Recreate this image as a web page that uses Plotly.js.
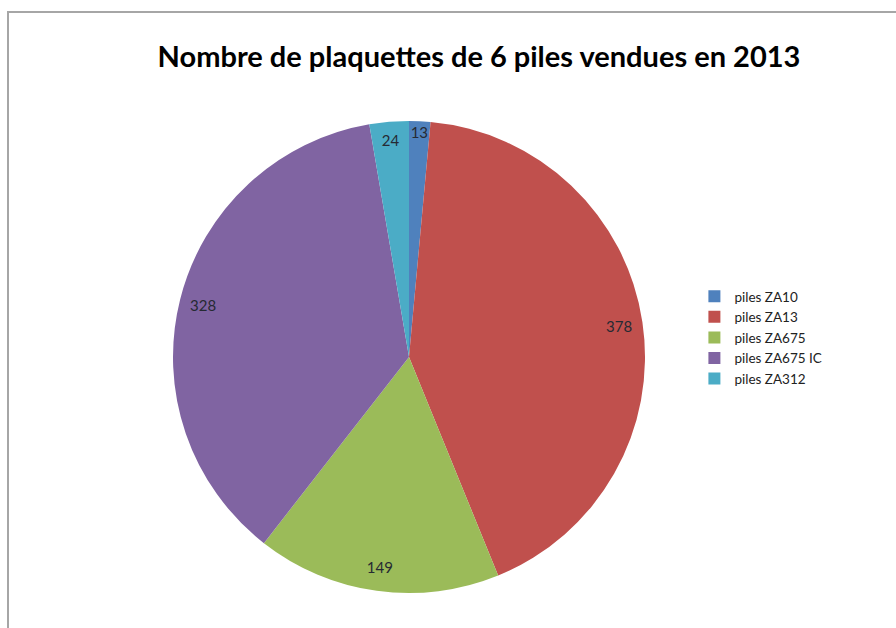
<!DOCTYPE html>
<html>
<head>
<meta charset="utf-8">
<script src="https://cdn.plot.ly/plotly-3.0.1.min.js"></script>
<style>html,body{margin:0;padding:0;background:#fff;}#chart{width:896px;height:628px;}</style>
</head>
<body>
<div id="chart"></div>
<script>
const labels = ["piles ZA10", "piles ZA13", "piles ZA675", "piles ZA675 IC", "piles ZA312"];
const values = [13, 378, 149, 328, 24];
const colors = ["#4F81BD", "#C0504D", "#9BBB59", "#8064A2", "#4BACC6"];
const titleText = "Nombre de plaquettes de 6 piles vendues en 2013";

const W = 896, H = 628;
const cx = 409, cy = 357, R = 236;
const dom = {
  x: [(cx - R) / W, (cx + R) / W],
  y: [(H - (cy + R)) / H, (H - (cy - R)) / H]
};

const mainPie = {
  type: "pie",
  labels: labels,
  values: values,
  sort: false,
  direction: "clockwise",
  rotation: 0,
  marker: {colors: colors, line: {width: 0}},
  textinfo: "none",
  hoverinfo: "label+value",
  domain: dom,
  showlegend: true
};

const labelRing = {
  type: "pie",
  labels: labels,
  values: values,
  sort: false,
  direction: "clockwise",
  rotation: 0,
  hole: 0.8,
  marker: {colors: labels.map(() => "rgba(0,0,0,0)"), line: {width: 0}},
  textinfo: "value",
  textposition: "inside",
  insidetextorientation: "horizontal",
  textfont: {family: "Lato, 'Open Sans', sans-serif", size: 15, color: "#262a33"},
  hoverinfo: "skip",
  domain: dom,
  showlegend: false
};

const layout = {
  width: W,
  height: H,
  margin: {l: 0, r: 0, t: 0, b: 0},
  paper_bgcolor: "#ffffff",
  font: {family: "Lato, 'Open Sans', sans-serif", color: "#222"},
  uniformtext: {minsize: 14.5, mode: "show"},
  title: {
    text: "<b>" + titleText + "</b>",
    font: {family: "Lato, 'Open Sans', sans-serif", size: 29, color: "#000"},
    x: 479 / W, xanchor: "center", xref: "paper",
    y: 1 - 57 / H, yanchor: "middle", yref: "paper"
  },
  legend: {
    x: 0.775, xanchor: "left",
    y: 1 - 281 / H, yanchor: "top",
    font: {family: "Lato, 'Open Sans', sans-serif", size: 13.5, color: "#222"},
    bgcolor: "rgba(0,0,0,0)",
    itemwidth: 30,
    tracegroupgap: 0
  },
  shapes: [{
    type: "rect", xref: "paper", yref: "paper",
    x0: 8 / W, x1: 1.05, y0: -0.05, y1: 1 - 12 / H,
    line: {color: "#a6a6a6", width: 2},
    fillcolor: "rgba(0,0,0,0)"
  }]
};

Plotly.newPlot("chart", [mainPie, labelRing], layout, {displayModeBar: false, staticPlot: true});
</script>
</body>
</html>
